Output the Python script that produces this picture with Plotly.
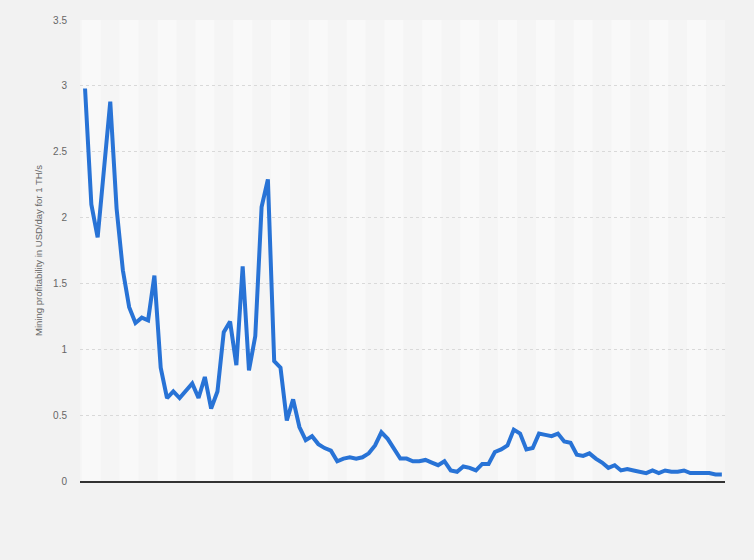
import plotly.graph_objects as go

# monthly mining profitability (USD/day per 1 TH/s)
profit = [
    2.98, 2.10, 1.85, 2.36, 2.88, 2.07, 1.60, 1.32, 1.20, 1.24,
    1.22, 1.56, 0.86, 0.63, 0.68, 0.63, 0.68, 0.74, 0.63, 0.79,
    0.55, 0.68, 1.13, 1.21, 0.88, 1.63, 0.84, 1.10, 2.08, 2.29,
    0.91, 0.86, 0.46, 0.62, 0.41, 0.31, 0.34, 0.28, 0.25, 0.23,
    0.15, 0.17, 0.18, 0.17, 0.18, 0.21, 0.27, 0.37, 0.32, 0.24,
    0.17, 0.17, 0.15, 0.15, 0.16, 0.14, 0.12, 0.15, 0.08, 0.07,
    0.11, 0.10, 0.08, 0.13, 0.13, 0.22, 0.24, 0.27, 0.39, 0.36,
    0.24, 0.25, 0.36, 0.35, 0.34, 0.36, 0.30, 0.29, 0.20, 0.19,
    0.21, 0.17, 0.14, 0.10, 0.12, 0.08, 0.09, 0.08, 0.07, 0.06,
    0.08, 0.06, 0.08, 0.07, 0.07, 0.08, 0.06, 0.06, 0.06, 0.06,
    0.05, 0.05,
]
months = list(range(len(profit)))
y_ticks = [0, 0.5, 1, 1.5, 2, 2.5, 3, 3.5]
y_title = "Mining profitability in USD/day for 1 TH/s"

fig = go.Figure()

# faint vertical bands behind the plot
for start in range(0, len(profit), 6):
    fig.add_shape(type="rect", xref="x", yref="paper",
                  x0=start - 0.5, x1=start + 2.5, y0=0, y1=1,
                  fillcolor="#f9f9f9", line_width=0, layer="below")

fig.add_trace(go.Scatter(
    x=months, y=profit, mode="lines",
    line=dict(color="#2873d6", width=4),
    hoverinfo="y",
))

# page body adds an 8px offset, so margins are trimmed to match
fig.update_layout(
    width=754, height=560,
    margin=dict(l=72, r=37, t=12, b=87),
    paper_bgcolor="#f2f2f2",
    plot_bgcolor="#f5f5f5",
    showlegend=False,
    font=dict(family="Liberation Sans, Arial, sans-serif", size=10, color="#666666"),
)
fig.update_xaxes(
    range=[-0.8, len(profit) - 0.5], automargin=False,
    showgrid=False, showticklabels=False, zeroline=False,
    showline=True, linecolor="#333333", linewidth=1.5,
)
fig.update_yaxes(
    range=[0, 3.5], tickvals=y_ticks, automargin=False,
    showgrid=True, gridcolor="#d9d9d9", griddash="dot", gridwidth=1,
    zeroline=False, ticks="outside", ticklen=10, tickcolor="rgba(0,0,0,0)",
    title=dict(text=y_title, font=dict(size=9.5, color="#666666"), standoff=8),
)

fig.write_html("out.html", post_script="document.body.style.backgroundColor='#f2f2f2';")
